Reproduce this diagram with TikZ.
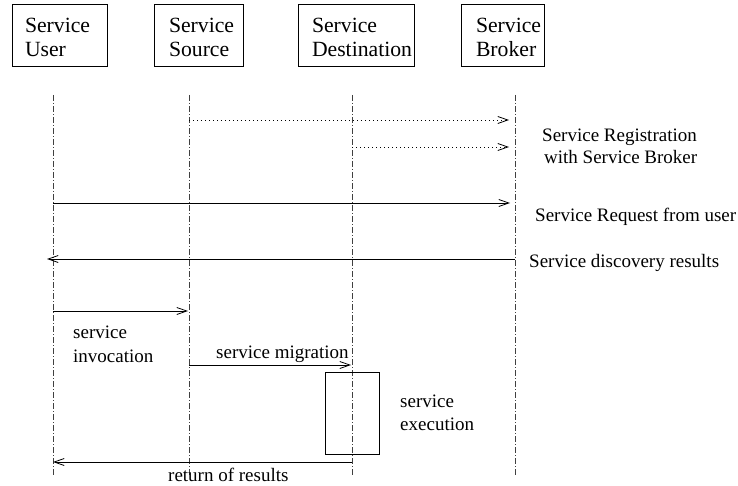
\documentclass[tikz,border=0pt]{standalone}
\usepackage{fontspec}
\setmainfont{Liberation Serif}
\usetikzlibrary{arrows.meta}
\begin{document}
\begin{tikzpicture}[x=1pt,y=-1pt,
  party/.style={draw, line width=0.9pt, minimum height=62pt, inner ysep=0pt,
    align=left, text height=20pt, text depth=24pt,
    font=\fontsize{21.7}{24}\selectfont},
  lifeline/.style={black!75, line width=0.8pt, dash pattern=on 6pt off 2pt on 1pt off 2pt},
  msg/.style={line width=0.8pt, -{Straight Barb[length=10pt,width=7pt,line width=0.8pt]}},
  regmsg/.style={msg, dash pattern=on 1pt off 3pt},
  lbl/.style={anchor=base west, inner sep=0pt, align=left,
    font=\fontsize{19}{23.5}\selectfont},
  execbox/.style={draw, line width=0.9pt}]
\useasboundingbox (0,0) rectangle (738,486);

% participants (text set flush left inside each box)
\node[party, inner xsep=13pt, text width=69pt] (user) at (59.5,35) {Service\\User};
\node[party, inner xsep=15pt, text width=59pt] (src)  at (198.5,35) {Service\\Source};
\node[party, inner xsep=14pt, text width=88pt] (dst)  at (356,35) {Service\\Destination};
\node[party, inner xsep=15pt, text width=53pt] (brk)  at (502.5,35) {Service\\Broker};

% lifelines
\coordinate (uTop) at (53,95);  \coordinate (uBot) at (53,475);
\coordinate (sTop) at (189,95); \coordinate (sBot) at (189,475);
\coordinate (dTop) at (352,95); \coordinate (dBot) at (352,475);
\coordinate (bTop) at (515,95); \coordinate (bBot) at (515,475);
\foreach \t/\b in {uTop/uBot,sTop/sBot,dTop/dBot,bTop/bBot}
  \draw[lifeline] (\t) -- (\b);

% execution on the destination
\node[execbox, minimum width=54pt, minimum height=82pt, inner sep=0pt] (exec) at (352,413) {};

% message end points
\coordinate (reg1a) at (189,120); \coordinate (reg1b) at (509,120);
\coordinate (reg2a) at (352,147); \coordinate (reg2b) at (509,147);
\coordinate (reqa) at (53,203);   \coordinate (reqb) at (510,203);
\coordinate (disa) at (515,259);  \coordinate (disb) at (47,259);
\coordinate (inva) at (53,311);   \coordinate (invb) at (188,311);
\coordinate (miga) at (189,365);  \coordinate (migb) at (351,365);
\coordinate (reta) at (352,462);  \coordinate (retb) at (53,462);

% messages
\draw[regmsg] (reg1a) -- (reg1b);
\draw[regmsg] (reg2a) -- (reg2b);
\draw[msg] (reqa) -- (reqb);
\draw[msg] (disa) -- (disb);
\draw[msg] (inva) -- (invb);
\draw[msg] (miga) -- (migb);
\draw[msg] (reta) -- (retb);

% labels (anchored at the baseline of their last line)
\node[lbl, font=\fontsize{19}{22}\selectfont] (lreg) at (542,164) {Service Registration\\\hspace*{2pt}with Service Broker};
\node[lbl] (lreq) at (535,222) {Service Request from user};
\node[lbl] (ldis) at (529,267) {Service discovery results};
\node[lbl, font=\fontsize{19}{24}\selectfont] (linv) at (73,362) {service\\invocation};
\node[lbl] (lmig) at (216,358) {service migration};
\node[lbl, font=\fontsize{19}{23}\selectfont] (lexe) at (400,430) {service\\execution};
\node[lbl] (lret) at (168,481) {return of results};
\end{tikzpicture}
\end{document}
